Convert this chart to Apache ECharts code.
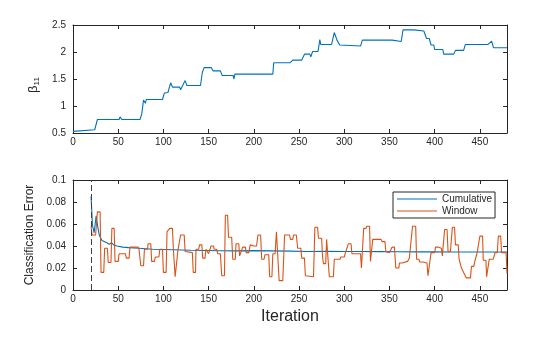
<!DOCTYPE html>
<html>
<head>
<meta charset="utf-8">
<script src="https://cdn.jsdelivr.net/npm/echarts@6/dist/echarts.min.js"></script>
<style>html,body{margin:0;padding:0;background:#fff;}#c{width:560px;height:337px;}</style>
</head>
<body>
<div id="c"></div>
<script>
// ---- Data ----
var xTicks = [0, 50, 100, 150, 200, 250, 300, 350, 400, 450];
var betaIter = [0,2,24,27,51,52,54,74,76,78,80,81,99,101,105,108,110,118,119,121,124,126,141,143,145,153,155,163,165,177,178,179,221,222,240,243,253,256,262,263,265,271,273,274,286,289,292,295,297,318,320,353,354,363,365,377,379,388,391,394,396,399,400,409,410,421,423,432,434,459,461,463,465,480];
var betaVal  = [0.53,0.56,0.56,0.75,0.75,0.80,0.75,0.75,0.85,1.11,1.05,1.12,1.12,1.24,1.25,1.43,1.35,1.35,1.30,1.37,1.47,1.38,1.38,1.62,1.71,1.71,1.65,1.65,1.565,1.565,1.50,1.59,1.59,1.80,1.80,1.85,1.85,1.96,1.96,1.91,2.01,2.01,2.23,2.14,2.14,2.36,2.22,2.13,2.11,2.11,2.22,2.22,2.195,2.195,2.41,2.41,2.39,2.39,2.25,2.25,2.13,2.13,2.045,2.045,1.96,1.96,2.03,2.03,2.14,2.14,2.13,2.20,2.08,2.08];

var cumIter = [20,21.5,23.4,25.6,27.5,29,32,37.5,40,42.4,45,48.7,55,61.8,73,88,110,130,162,180,200,220,240,260,280,300,320,340,360,380,400,420,440,460,480];
var cumVal  = [0.085,0.059,0.052,0.0675,0.057,0.050,0.045,0.043,0.0415,0.043,0.041,0.040,0.039,0.0385,0.038,0.037,0.0366,0.0362,0.0357,0.0356,0.0358,0.0356,0.0353,0.0350,0.0352,0.0350,0.0350,0.0349,0.0348,0.0347,0.0347,0.0346,0.0346,0.0345,0.0345];

var winIter = [20,21,25,27,30,31,34,35,38,39,42,43,45.5,46.5,50,51,58,59,62,63,72,73,74,75,78,79,82.5,83,86,87,90,91,95,96,99,100,103,104,106,107,110,111,112,113,115,116,118,119,123,124,132,133,135.5,136,139,140,142.5,143.5,146,147,149,150,152,152.6,155.6,156,159,160,163,164.5,167.5,168.5,171,172,175.5,176.7,179.5,180.3,183.3,184.3,186.5,187.7,190.7,191.5,194.5,196,200,201,203,204.5,207.5,208.7,211.3,212.3,216.5,217.5,220,221,223.5,225,227,228,232,234,239.5,240.5,243,244,247,248.5,252,253,256,257,266,267.5,270.5,271.5,275,276,277,279.5,280.5,282.5,283.5,288,289,295.5,296,300,301,303,304.5,307.5,308.5,318,319,320.5,321.5,324,325,328,329,330,331.5,335,337,340.7,342,345,346,348,350,352,353,355.5,357,360.4,361,364,365,370,372,374,375.5,379,380,382.6,383.3,387,389,391.5,392.6,394.4,396,400,401,403.7,405.5,407.4,408.5,410,411,413.7,414.8,417.4,419.6,422,423,426,427,428.5,429.6,431.5,435,439.6,440.7,443.3,444.4,446.3,447,448.5,450,453,453.7,456.7,457.4,459.3,460.4,464.8,466.7,469.3,470.4,473,474,479,480];
var winVal  = [0.058,0.050,0.050,0.071,0.071,0.016,0.016,0.038,0.038,0.025,0.025,0.056,0.056,0.026,0.026,0.033,0.033,0.029,0.029,0.039,0.039,0.037,0.037,0.022,0.022,0.037,0.037,0.042,0.042,0.026,0.026,0.030,0.030,0.037,0.037,0.016,0.016,0.053,0.053,0.056,0.056,0.037,0.037,0.012,0.012,0.036,0.036,0.050,0.050,0.035,0.034,0.016,0.016,0.037,0.037,0.041,0.041,0.029,0.029,0.037,0.037,0.033,0.033,0.040,0.040,0.037,0.037,0.033,0.033,0.013,0.013,0.068,0.068,0.048,0.048,0.028,0.028,0.042,0.042,0.031,0.031,0.039,0.039,0.034,0.034,0.041,0.040,0.040,0.040,0.050,0.050,0.028,0.028,0.032,0.032,0.012,0.012,0.033,0.033,0.053,0.053,0.0085,0.0085,0.050,0.050,0.046,0.046,0.050,0.050,0.038,0.038,0.029,0.029,0.013,0.012,0.057,0.057,0.047,0.047,0.030,0.024,0.024,0.046,0.046,0.012,0.012,0.028,0.028,0.030,0.030,0.033,0.033,0.042,0.042,0.033,0.033,0.020,0.020,0.056,0.056,0.058,0.058,0.026,0.026,0.046,0.046,0.046,0.046,0.044,0.044,0.035,0.035,0.034,0.034,0.039,0.039,0.020,0.020,0.0245,0.0245,0.026,0.026,0.029,0.029,0.058,0.058,0.028,0.028,0.0255,0.0255,0.0245,0.0245,0.013,0.013,0.034,0.034,0.039,0.039,0.038,0.038,0.031,0.031,0.055,0.055,0.035,0.035,0.057,0.057,0.041,0.041,0.028,0.028,0.020,0.020,0.011,0.011,0.0215,0.0215,0.026,0.026,0.034,0.034,0.049,0.049,0.027,0.027,0.012,0.012,0.028,0.028,0.034,0.034,0.049,0.049,0.034,0.034,0.015];

function zip(a, b) { return a.map(function (v, i) { return [v, b[i]]; }); }

var FONT = 'Liberation Sans, Arial, Helvetica, sans-serif';
var AX = '#262626';
var chart = echarts.init(document.getElementById('c'), null, {renderer: 'canvas'});

function xAx(grid, pos, labels, extra) {
  var o = {
    type: 'value', gridIndex: grid, position: pos, min: 0, max: 480, interval: 50,
    axisLine: {show: true, onZero: false, lineStyle: {color: AX, width: 1}},
    axisTick: {show: true, inside: true, length: 4, lineStyle: {color: AX}},
    axisLabel: {show: labels, showMaxLabel: false, color: AX, fontSize: 10, fontFamily: FONT, margin: 4},
    splitLine: {show: false}
  };
  if (extra) for (var k in extra) o[k] = extra[k];
  return o;
}
function yAx(grid, pos, labels, min, max, interval, extra) {
  var o = {
    type: 'value', gridIndex: grid, position: pos, min: min, max: max, interval: interval,
    axisLine: {show: true, onZero: false, lineStyle: {color: AX, width: 1}},
    axisTick: {show: true, inside: true, length: 4, lineStyle: {color: AX}},
    axisLabel: {show: labels, color: AX, fontSize: 10, fontFamily: FONT, margin: 7,
      formatter: function (v) { return String(+v.toFixed(2)); }},
    splitLine: {show: false}
  };
  if (extra) for (var k in extra) o[k] = extra[k];
  return o;
}

var option = {
  animation: false,
  backgroundColor: '#fff',
  grid: [
    {left: 73, top: 25, width: 434, height: 108},
    {left: 73, top: 180, width: 434, height: 110}
  ],
  xAxis: [
    xAx(0, 'bottom', true),
    xAx(0, 'top', false),
    xAx(1, 'bottom', true, {name: 'Iteration', nameLocation: 'middle', nameGap: 19,
      nameTextStyle: {color: AX, fontSize: 16, fontFamily: FONT}}),
    xAx(1, 'top', false)
  ],
  yAxis: [
    yAx(0, 'left', true, 0.5, 2.5, 0.5, {name: '{a|β}{b|11}', nameLocation: 'middle', nameGap: 20, nameRotate: 90,
      nameTextStyle: {color: AX, fontFamily: FONT, padding: [0, 12, 0, 0],
        rich: {a: {fontSize: 13, color: AX, fontFamily: FONT}, b: {fontSize: 8, color: AX, fontFamily: FONT, padding: [7, 0, 0, 0]}}}}),
    yAx(0, 'right', false, 0.5, 2.5, 0.5),
    yAx(1, 'left', true, 0, 0.1, 0.02, {name: 'Classification Error', nameLocation: 'middle', nameGap: 30, nameRotate: 90,
      nameTextStyle: {color: AX, fontSize: 12, fontFamily: FONT}}),
    yAx(1, 'right', false, 0, 0.1, 0.02)
  ],
  legend: {
    orient: 'vertical', left: 393, top: 192,
    padding: [1.5, 3, 1.5, 4], itemGap: 1, itemWidth: 40, itemHeight: 1.2,
    icon: 'rect',
    backgroundColor: '#fff', borderColor: AX, borderWidth: 1, borderRadius: 0,
    textStyle: {color: AX, fontSize: 10, fontFamily: FONT, lineHeight: 11},
    data: [{name: 'Cumulative', icon: 'rect'}, {name: 'Window', icon: 'rect'}]
  },
  series: [
    {type: 'line', name: 'beta', xAxisIndex: 0, yAxisIndex: 0, symbol: 'none',
      lineStyle: {color: '#0072BD', width: 1.1}, itemStyle: {color: '#0072BD'},
      data: zip(betaIter, betaVal)},
    {type: 'line', name: 'Cumulative', xAxisIndex: 2, yAxisIndex: 2, symbol: 'none',
      lineStyle: {color: '#0072BD', width: 1.1}, itemStyle: {color: '#0072BD'},
      data: zip(cumIter, cumVal),
      markLine: {silent: true, symbol: 'none', label: {show: false},
        lineStyle: {color: '#404040', width: 1, type: [6, 3]},
        data: [{xAxis: 20}]}},
    {type: 'line', name: 'Window', xAxisIndex: 2, yAxisIndex: 2, symbol: 'none',
      lineStyle: {color: '#D95319', width: 1.1}, itemStyle: {color: '#D95319'},
      data: zip(winIter, winVal)}
  ]
};
chart.setOption(option);
</script>
</body>
</html>
